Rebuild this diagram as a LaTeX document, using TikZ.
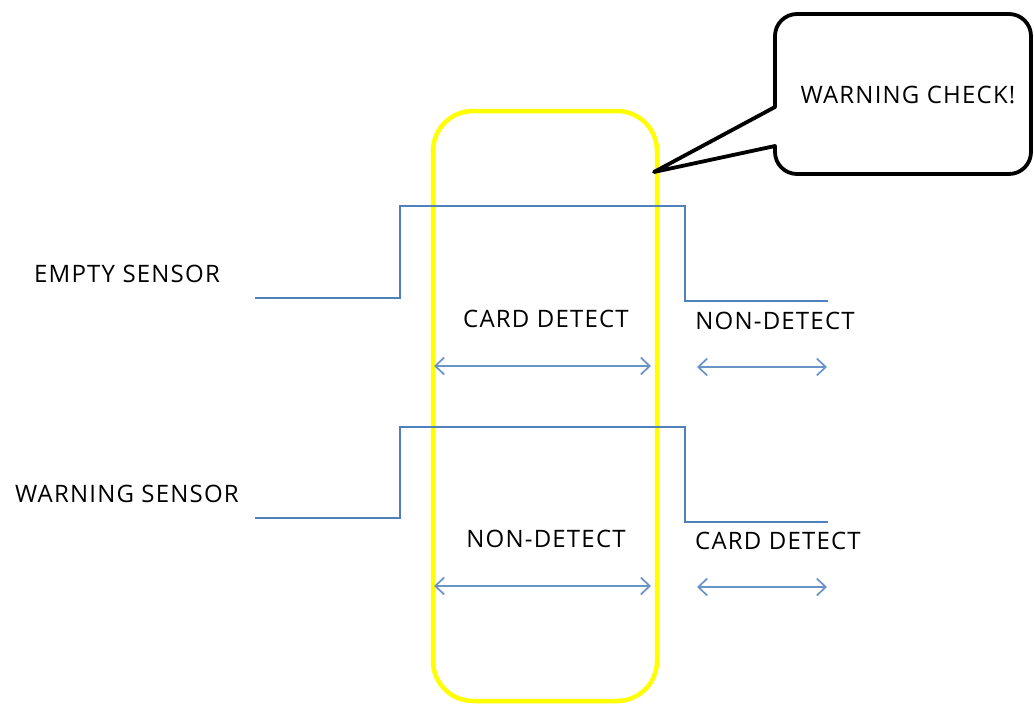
\documentclass[tikz,border=0pt]{standalone}
\usepackage{fontspec}
\setmainfont{Open Sans}[LetterSpace=5]
\usetikzlibrary{arrows.meta}
\definecolor{sig}{HTML}{4F81BD}
\definecolor{hl}{HTML}{FFFF00}
\begin{document}
\begin{tikzpicture}[x=1pt,y=-1pt,
  lbl/.style={font=\fontsize{24}{27}\selectfont, text=black, inner sep=0pt},
  sigline/.style={draw=sig, line width=1.4pt},
  span/.style={draw=sig!85, line width=1.7pt, {Straight Barb[length=9pt,width=17pt]}-{Straight Barb[length=9pt,width=17pt]}},
  hlbox/.style={draw=hl, line width=4.5pt, rounded corners=40pt},
  bubble/.style={draw=black, line width=3.8pt, line join=round}]
\useasboundingbox (0,0) rectangle (1034,704);
% highlight box
\draw[hlbox] (433,111) rectangle (657,701);
% signals
\coordinate (e0) at (255,298);
\coordinate (e1) at (400,298);
\coordinate (e2) at (400,206);
\coordinate (e3) at (685,206);
\coordinate (e4) at (685,301);
\coordinate (e5) at (828,301);
\draw[sigline] (e0) -- (e1) -- (e2) -- (e3) -- (e4) -- (e5);
\coordinate (w0) at (255,518);
\coordinate (w1) at (400,518);
\coordinate (w2) at (400,427);
\coordinate (w3) at (685,427);
\coordinate (w4) at (685,522);
\coordinate (w5) at (828,522);
\draw[sigline] (w0) -- (w1) -- (w2) -- (w3) -- (w4) -- (w5);
% labels
\node[lbl] (le) at (127,274) {EMPTY SENSOR};
\node[lbl] (lw) at (127,494) {WARNING SENSOR};
\node[lbl] (c1) at (546,319) {CARD DETECT};
\node[lbl] (n1) at (775,321) {NON-DETECT};
\node[lbl] (n2) at (546,539) {NON-DETECT};
\node[lbl] (c2) at (778,541) {CARD DETECT};
% spans
\coordinate (a1l) at (434,366); \coordinate (a1r) at (651,366);
\coordinate (a2l) at (697,367); \coordinate (a2r) at (827,367);
\coordinate (a3l) at (434,586); \coordinate (a3r) at (651,586);
\coordinate (a4l) at (697,587); \coordinate (a4r) at (827,587);
\draw[span] (a1l) -- (a1r);
\draw[span] (a2l) -- (a2r);
\draw[span] (a3l) -- (a3r);
\draw[span] (a4l) -- (a4r);
% callout
\coordinate (tip) at (654,172);
\draw[bubble] (tip) -- (775,107) -- (775,36) arc[start angle=180,end angle=90,radius=22pt] -- (1009,14) arc[start angle=90,end angle=0,radius=22pt] -- (1031,152) arc[start angle=0,end angle=-90,radius=22pt] -- (797,174) arc[start angle=-90,end angle=-180,radius=22pt] -- (775,146) -- cycle;
\node[lbl] (wc) at (908,95) {WARNING CHECK!};
\end{tikzpicture}
\end{document}
